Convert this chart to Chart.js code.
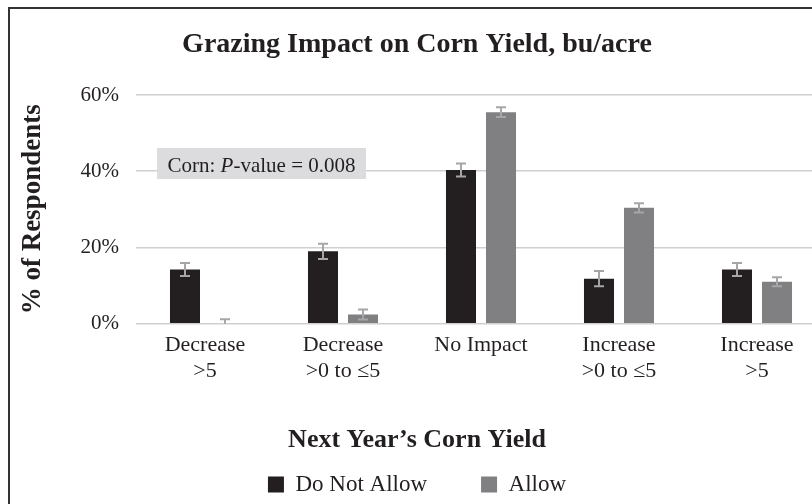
<!DOCTYPE html>
<html>
<head>
<meta charset="utf-8">
<script src="https://cdn.jsdelivr.net/npm/chart.js@4.4.1/dist/chart.umd.min.js"></script>
<style>
  html, body { margin: 0; padding: 0; overflow: hidden; background: #fff; }
  #frame { position: absolute; left: 8px; top: 7px; width: 900px; height: 600px; border: 2px solid #333; }
  #wrap { position: absolute; left: 0; top: 0; }
</style>
</head>
<body>
<div id="frame"></div>
<div id="wrap"><canvas id="barChart" width="840" height="506"></canvas></div>
<script>
const categories = [['Decrease', '>5'], ['Decrease', '>0 to ≤5'], 'No Impact', ['Increase', '>0 to ≤5'], ['Increase', '>5']];
const doNotAllow = [14.2, 19.0, 40.3, 11.8, 14.2];
const allow = [0, 2.4, 55.5, 30.4, 11.0];
const doNotAllowErr = [1.7, 2.0, 1.7, 2.0, 1.7];
const allowErr = [1.2, 1.3, 1.3, 1.2, 1.2];
const yTicks = [0, 20, 40, 60];

const textColor = '#231f20';
Chart.defaults.font.family = "'Liberation Serif', serif";
Chart.defaults.color = textColor;

// error whiskers on top of every bar
const errorBars = {
    id: 'errorBars',
    afterDatasetsDraw(chart) {
        const ctx = chart.ctx;
        const y = chart.scales.y;
        const a = chart.chartArea;
        ctx.save();
        ctx.beginPath();
        ctx.rect(a.left, a.top - 20, a.right - a.left, a.bottom - a.top + 20);
        ctx.clip();
        ctx.strokeStyle = '#a6a6a8';
        ctx.lineWidth = 2;
        chart.data.datasets.forEach(function(ds, i) {
            chart.getDatasetMeta(i).data.forEach(function(bar, j) {
                const top = y.getPixelForValue(ds.data[j] + ds.errors[j]);
                const bot = y.getPixelForValue(ds.data[j] - ds.errors[j]);
                ctx.beginPath();
                ctx.moveTo(bar.x, top); ctx.lineTo(bar.x, bot);
                ctx.moveTo(bar.x - 5, top); ctx.lineTo(bar.x + 5, top);
                ctx.moveTo(bar.x - 5, bot); ctx.lineTo(bar.x + 5, bot);
                ctx.stroke();
            });
        });
        ctx.restore();
    }
};

// grey box with the p-value
const pValueBox = {
    id: 'pValueBox',
    afterDatasetsDraw(chart) {
        const ctx = chart.ctx;
        const a = chart.chartArea;
        const x = a.left + 21, y = a.top + 53, w = 209, h = 31;
        const reg = '21px "Liberation Serif"';
        const ital = 'italic 21px "Liberation Serif"';
        const parts = [['Corn: ', reg], ['P', ital], ['-value = 0.008', reg]];
        ctx.save();
        ctx.fillStyle = '#dcdcde';
        ctx.fillRect(x, y, w, h);
        let total = 0;
        parts.forEach(function(p) { ctx.font = p[1]; total += ctx.measureText(p[0]).width; });
        let tx = x + (w - total) / 2;
        ctx.fillStyle = textColor;
        ctx.textBaseline = 'alphabetic';
        parts.forEach(function(p) {
            ctx.font = p[1];
            ctx.fillText(p[0], tx, y + 24);
            tx += ctx.measureText(p[0]).width;
        });
        ctx.restore();
    }
};

const data = {
    labels: categories,
    datasets: [{
        label: 'Do Not Allow',
        data: doNotAllow,
        errors: doNotAllowErr,
        backgroundColor: '#231f20',
        borderWidth: 0
    }, {
        label: 'Allow',
        data: allow,
        errors: allowErr,
        backgroundColor: '#808083',
        borderWidth: 0
    }]
};

const config = {
    type: 'bar',
    data: data,
    options: {
        responsive: false,
        animation: false,
        layout: { padding: { left: 8, right: 14, top: 0, bottom: 0 } },
        datasets: { bar: { categoryPercentage: 0.58, barPercentage: 0.75 } },
        plugins: {
            title: {
                display: true,
                text: 'Grazing Impact on Corn Yield, bu/acre',
                color: textColor,
                font: { size: 28, weight: 'bold' },
                padding: { top: 28, bottom: 33.4 }
            },
            tooltip: { enabled: false },
            legend: {
                position: 'bottom',
                labels: {
                    boxWidth: 16,
                    boxHeight: 16,
                    padding: 54,
                    color: textColor,
                    font: { size: 23 }
                },
                title: {
                    display: true,
                    text: 'Next Year’s Corn Yield',
                    color: textColor,
                    font: { size: 26, weight: 'bold' },
                    padding: { top: 35, bottom: -39.7 }
                }
            }
        },
        scales: {
            x: {
                grid: { display: false, drawTicks: false },
                border: { display: false },
                ticks: { padding: 8, maxRotation: 0, autoSkip: false, color: textColor, font: { size: 22 } }
            },
            y: {
                min: 0,
                max: 60,
                afterFit: function(scale) { scale.width = 128; },
                afterBuildTicks: function(scale) { scale.ticks = yTicks.map(function(v) { return { value: v }; }); },
                grid: { color: '#cfcfcf', lineWidth: 1.5, drawTicks: false },
                border: { display: false },
                ticks: {
                    padding: 17,
                    color: textColor,
                    font: { size: 21 },
                    callback: function(v) { return v + '%'; }
                },
                title: {
                    display: true,
                    text: '% of Respondents',
                    color: textColor,
                    font: { size: 27, weight: 'bold' },
                    padding: { top: 9, bottom: 0 }
                }
            }
        }
    },
    plugins: [errorBars, pValueBox]
};

const myChart = new Chart(document.getElementById('barChart'), config);
</script>
</body>
</html>
